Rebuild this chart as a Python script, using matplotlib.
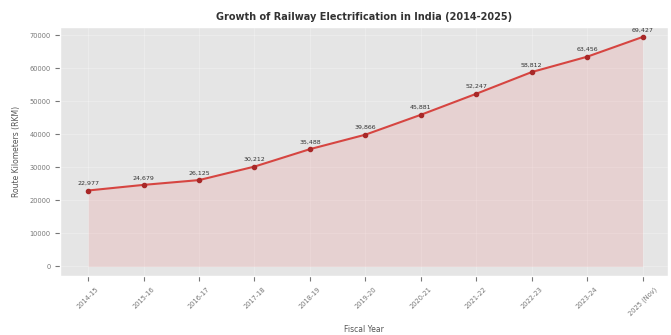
import matplotlib
matplotlib.use("Agg")
import matplotlib.pyplot as plt

years = ["2014-15", "2015-16", "2016-17", "2017-18", "2018-19", "2019-20",
         "2020-21", "2021-22", "2022-23", "2023-24", "2025 (Nov)"]
rkm = [22977, 24679, 26125, 30212, 35488, 39866, 45881, 52247, 58812, 63456, 69427]

plt.style.use("ggplot")
fig = plt.figure(figsize=(6.71, 3.35), dpi=100)
ax = fig.add_axes([0.09, 0.175, 0.905, 0.745])
ax.set_facecolor("#e5e5e5")
ax.grid(True, color="white", alpha=0.25, linewidth=0.8)

x = list(range(len(years)))
ax.fill_between(x, rkm, color="#eaa0a0", alpha=0.28, linewidth=0)
ax.plot(x, rkm, color="#d64541", linewidth=1.5, marker="o", markersize=3,
        markerfacecolor="#a82828", markeredgecolor="#a82828")
for xi, v in zip(x, rkm):
    ax.annotate(f"{v:,}", (xi, v), textcoords="offset points", xytext=(0, 4),
                ha="center", fontsize=4.5, color="#333333")

ax.set_xticks(x)
ax.set_xticklabels(years, rotation=45, fontsize=4.8, color="#777777")
ax.set_yticks(range(0, 70001, 10000))
ax.tick_params(axis="y", labelsize=4.8, colors="#777777")
ax.tick_params(axis="x", colors="#777777")
ax.set_ylim(-3000, 72500)
ax.set_xlim(-0.5, 10.45)
ax.set_title("Growth of Railway Electrification in India (2014-2025)",
             fontsize=7, color="#333333", pad=5, fontweight="bold")
ax.set_xlabel("Fiscal Year", fontsize=5.5, color="#555555", labelpad=6)
ax.set_ylabel("Route Kilometers (RKM)", fontsize=5.5, color="#555555", labelpad=6)

fig.savefig("out.png", dpi=100)
